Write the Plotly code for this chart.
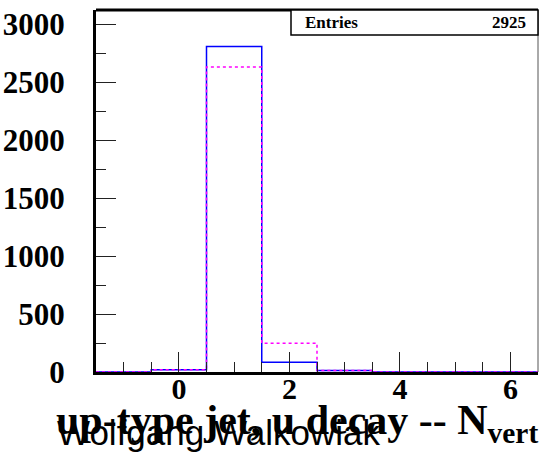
import plotly.graph_objects as go

# Data (bin centres and contents)
bin_centers = [-1, 0, 1, 2, 3, 4, 5, 6]
blue_counts = [0, 20, 2809, 84, 12, 0, 0, 0]
magenta_counts = [0, 20, 2634, 249, 14, 0, 0, 0]
entries = 2925
x_ticks = [0, 2, 4, 6]
y_ticks = [0, 500, 1000, 1500, 2000, 2500, 3000]

bin_width = 1.0
edges = [c - bin_width / 2 for c in bin_centers] + [bin_centers[-1] + bin_width / 2]


def step(vals):
    return edges, list(vals) + [vals[-1]]


fig = go.Figure()
xb, yb = step(blue_counts)
fig.add_trace(go.Scatter(x=xb, y=yb, mode="lines", line_shape="hv",
                         line=dict(color="#0000ff", width=1.5), showlegend=False))
xm, ym = step(magenta_counts)
fig.add_trace(go.Scatter(x=xm, y=ym, mode="lines", line_shape="hv",
                         line=dict(color="#ff00ff", width=1.5, dash="dot"), showlegend=False))

tickfont = dict(family="Liberation Serif", size=31, color="black", weight="bold")

fig.update_layout(
    width=539, height=471,
    margin=dict(l=96, r=1, t=10, b=99, autoexpand=False),
    paper_bgcolor="white", plot_bgcolor="white",
    xaxis=dict(range=[edges[0], edges[-1]], tickvals=x_ticks, ticktext=[str(v) for v in x_ticks],
               ticks="inside", ticklen=20, tickwidth=1, tickcolor="#222",
               minor=dict(ticks="inside", ticklen=10, dtick=0.5, tick0=0, tickwidth=1, tickcolor="#222"),
               showgrid=False, zeroline=False, showline=True, linewidth=3, linecolor="black",
               tickfont=dict(family="Liberation Serif", size=30, color="black", weight="bold"),
               ticklabelstandoff=-12, automargin=False),
    yaxis=dict(range=[0, 3125], tickvals=y_ticks, ticktext=[str(v) for v in y_ticks],
               ticks="inside", ticklen=20, tickwidth=1, tickcolor="#222",
               minor=dict(ticks="inside", ticklen=10, dtick=250, tick0=0, tickwidth=1, tickcolor="#222"),
               showgrid=False, zeroline=False, showline=True, linewidth=3, linecolor="black",
               tickfont=tickfont, ticklabelstandoff=22, automargin=False),
)

# Frame top (thick) and right (thin)
fig.add_shape(type="line", xref="paper", yref="paper", x0=0, x1=1, y0=1, y1=1,
              line=dict(color="black", width=3))
fig.add_shape(type="line", xref="paper", yref="paper", x0=1, x1=1, y0=0, y1=1,
              line=dict(color="#555", width=1))

# Stats box
box_x0 = (291 - 96) / 442
box_y0 = 1 - (35 - 10) / 362
fig.add_shape(type="rect", xref="paper", yref="paper", x0=box_x0, x1=1, y0=box_y0, y1=1,
              line=dict(color="black", width=1.5), fillcolor="white")
fig.add_annotation(xref="paper", yref="paper", x=(303 - 96) / 442, y=1 - (23 - 10) / 362,
                   xanchor="left", yanchor="middle", showarrow=False, text="Entries",
                   font=dict(family="Liberation Serif", size=17, color="black", weight="bold"))
fig.add_annotation(xref="paper", yref="paper", x=(528 - 96) / 442, y=1 - (23 - 10) / 362,
                   xanchor="right", yanchor="middle", showarrow=False, text=str(entries),
                   font=dict(family="Liberation Serif", size=17, color="black", weight="bold"))

# Axis title and author label
fig.add_annotation(xref="paper", yref="paper", x=(54 - 96) / 442, y=(372 - 395) / 362,
                   xanchor="left", yanchor="top", showarrow=False,
                   text="up-type jet, u decay -- N<sub>vert</sub>",
                   font=dict(family="Liberation Serif", size=42, color="black", weight="bold"))
fig.add_annotation(xref="paper", yref="paper", x=(55 - 96) / 442, y=(372 - 411) / 362,
                   xanchor="left", yanchor="top", showarrow=False,
                   text="Wolfgang Walkowiak",
                   font=dict(family="Liberation Sans", size=35, color="black"))

fig.write_html("out.html", post_script="document.body.style.margin='0';",
               config={"displayModeBar": False})
